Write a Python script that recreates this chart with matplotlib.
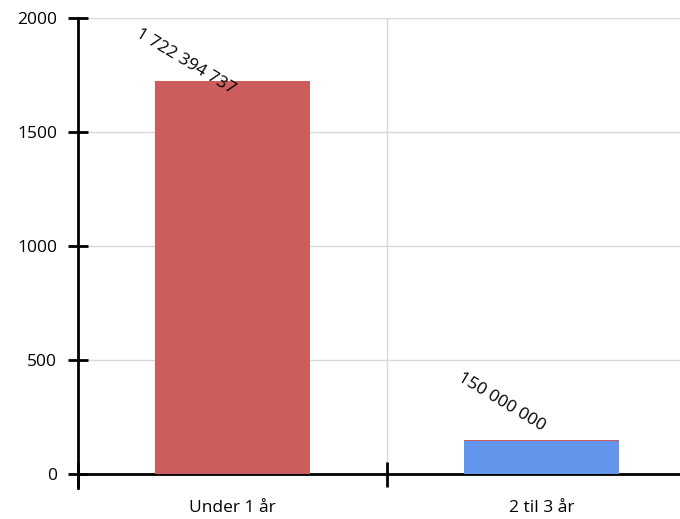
import matplotlib.pyplot as plt
import numpy as np

plt.rcParams['font.family'] = ['Open Sans', 'DejaVu Sans']

categories = ["Under 1 år", "2 til 3 år"]
blue_vals = [0, 144]           # millions
red_vals = [1722.394737, 6]    # millions
labels = ["1 722 394 737", "150 000 000"]
label_offsets = [(-34, 14), (-29, 27)]  # points, from bar top centre

fig = plt.figure(figsize=(6.8, 5.19), dpi=100)
ax = fig.add_axes([78 / 680, 45 / 519, 618 / 680, 456 / 519])

x = np.arange(len(categories))
ax.bar(x, blue_vals, width=0.5, color="#6495ED", zorder=3)
ax.bar(x, red_vals, width=0.5, bottom=blue_vals, color="#CD5C5C", zorder=3)

tops = np.array(blue_vals) + np.array(red_vals)
for xi, top, lab, off in zip(x, tops, labels, label_offsets):
    ax.annotate(lab, (xi, top), xytext=off, textcoords="offset points",
                ha="center", va="center", rotation=-31, fontsize=12.5,
                color="black", zorder=4)

ax.set_xlim(-0.5, 1.5)
ax.set_ylim(0, 2000)
ax.set_yticks([0, 500, 1000, 1500, 2000])
ax.set_xticks(x)
ax.set_xticklabels(categories)
ax.set_xticks([-0.5, 0.5], minor=True)

ax.tick_params(axis="x", which="major", length=0, labelsize=12.5, pad=19)
ax.tick_params(axis="x", which="minor", direction="inout", length=18, width=2)
ax.tick_params(axis="y", direction="inout", length=14, width=2, labelsize=12.5, pad=8)

ax.grid(axis="y", color="#d9d9d9", lw=1, zorder=0)
ax.grid(axis="x", which="minor", color="#d9d9d9", lw=1, zorder=0)

for s in ["top", "right"]:
    ax.spines[s].set_visible(False)
ax.spines["left"].set_linewidth(2)
ax.spines["bottom"].set_linewidth(2)
ax.spines["left"].set_bounds(-60, 2000)

fig.savefig("out.png", dpi=100)
